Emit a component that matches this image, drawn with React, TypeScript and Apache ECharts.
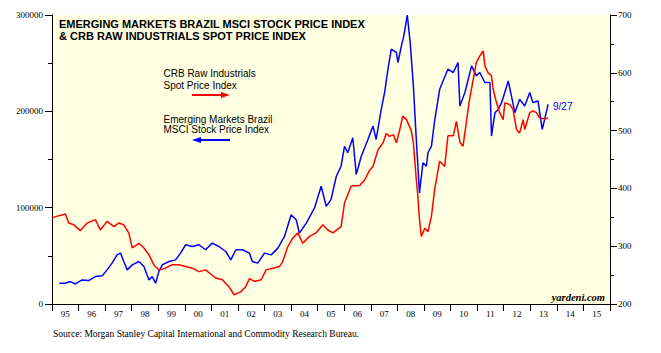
import React, { useEffect, useRef } from "react";
import * as echarts from "echarts";

const yearLabels = ["95","96","97","98","99","00","01","02","03","04","05","06","07","08","09","10","11","12","13","14","15"];

const leftTicks = [0, 100000, 200000, 300000];
const rightTicks = [200, 300, 400, 500, 600, 700];

// MSCI Brazil (left axis): [decimal year, value]
const brazil: [number, number][] = [
  [1995.28, 21500],[1995.5, 21500],[1995.69, 23300],[1995.88, 20800],[1996.13, 25000],[1996.38, 24300],
  [1996.63, 28500],[1996.89, 29200],[1997.07, 35400],[1997.26, 42400],[1997.45, 51000],[1997.58, 52800],
  [1997.7, 44100],[1997.83, 35400],[1998.02, 40600],[1998.27, 44100],[1998.46, 38900],[1998.65, 25000],
  [1998.77, 28400],[1998.9, 21600],[1999.02, 33600],[1999.15, 40600],[1999.4, 44100],[1999.65, 45800],
  [1999.84, 52800],[2000.03, 61500],[2000.28, 59700],[2000.53, 61500],[2000.78, 56300],[2001.03, 63200],
  [2001.28, 59700],[2001.54, 54500],[2001.73, 45800],[2001.92, 56300],[2002.17, 56300],[2002.43, 52800],
  [2002.54, 44100],[2002.74, 42400],[2003.0, 52800],[2003.25, 51000],[2003.5, 58000],[2003.75, 70100],
  [2004.0, 92700],[2004.19, 87500],[2004.31, 73600],[2004.57, 84000],[2004.88, 99700],[2005.13, 122200],
  [2005.32, 101300],[2005.5, 108300],[2005.7, 132600],[2005.88, 143000],[2006.01, 163800],[2006.13, 157000],
  [2006.32, 172600],[2006.45, 134400],[2006.64, 153400],[2006.89, 170800],[2007.08, 184700],[2007.2, 170800],
  [2007.39, 202000],[2007.52, 220000],[2007.65, 245000],[2007.77, 264600],[2007.96, 261100],[2008.02, 250700],
  [2008.15, 268000],[2008.24, 278400],[2008.37, 300000],[2008.48, 271600],[2008.6, 226400],[2008.71, 170800],
  [2008.77, 143000],[2008.83, 115300],[2008.96, 146600],[2009.09, 143000],[2009.15, 157000],[2009.28, 163900],
  [2009.4, 190000],[2009.59, 222900],[2009.9, 243700],[2010.1, 240300],[2010.28, 250700],[2010.35, 205500],
  [2010.54, 219500],[2010.79, 247200],[2010.97, 236800],[2011.1, 240300],[2011.29, 229900],[2011.48, 229900],
  [2011.54, 174300],[2011.67, 198600],[2011.79, 202000],[2011.92, 209000],[2012.04, 219500],[2012.17, 231600],
  [2012.29, 216000],[2012.42, 198600],[2012.6, 212500],[2012.79, 205500],[2012.98, 219500],[2013.1, 209000],
  [2013.29, 210800],[2013.45, 181200],[2013.54, 191700],[2013.67, 207300]
];

// CRB Raw Industrials (right axis): [decimal year, value]
const crb: [number, number][] = [
  [1995.0, 349],[1995.2, 352],[1995.38, 354],[1995.5, 356],[1995.63, 340],[1995.82, 337],[1996.07, 327],
  [1996.32, 340],[1996.63, 346],[1996.82, 328],[1997.07, 343],[1997.33, 334],[1997.51, 340],[1997.7, 337],
  [1997.89, 323],[1998.02, 297],[1998.27, 305],[1998.46, 297],[1998.65, 285],[1998.83, 268],[1999.02, 259],
  [1999.27, 262],[1999.52, 268],[1999.77, 268],[2000.03, 265],[2000.28, 262],[2000.53, 256],[2000.78, 259],
  [2001.16, 245],[2001.41, 242],[2001.66, 230],[2001.85, 216],[2002.1, 221],[2002.29, 230],[2002.43, 244],
  [2002.62, 239],[2002.87, 242],[2003.06, 259],[2003.31, 262],[2003.56, 265],[2003.68, 273],[2003.87, 299],
  [2004.06, 314],[2004.25, 323],[2004.44, 305],[2004.69, 317],[2004.94, 323],[2005.19, 337],[2005.38, 328],
  [2005.57, 323],[2005.88, 334],[2006.01, 375],[2006.26, 404],[2006.58, 405],[2006.77, 415],[2006.96, 432],
  [2007.08, 438],[2007.27, 467],[2007.46, 479],[2007.58, 495],[2007.7, 490],[2007.85, 493],[2007.96, 479],
  [2008.08, 500],[2008.2, 525],[2008.34, 519],[2008.52, 500],[2008.6, 479],[2008.71, 415],[2008.77, 386],
  [2008.83, 346],[2008.9, 317],[2009.03, 331],[2009.15, 325],[2009.28, 352],[2009.4, 398],[2009.59, 447],
  [2009.78, 438],[2009.9, 491],[2010.1, 491],[2010.22, 516],[2010.35, 480],[2010.47, 473],[2010.7, 550],
  [2010.97, 618],[2011.1, 629],[2011.23, 638],[2011.29, 612],[2011.41, 600],[2011.54, 595],[2011.6, 572],
  [2011.73, 548],[2011.85, 531],[2011.98, 519],[2012.04, 548],[2012.23, 545],[2012.35, 537],[2012.48, 502],
  [2012.6, 496],[2012.73, 519],[2012.79, 502],[2012.98, 531],[2013.1, 534],[2013.23, 531],[2013.35, 522],
  [2013.54, 520],[2013.67, 522]
];

const SERIF = "'Liberation Serif', 'Times New Roman', serif";
const SANS = "'Liberation Sans', Arial, sans-serif";

export default function App() {
  const ref = useRef<HTMLDivElement>(null);
  useEffect(() => {
    if (!ref.current) return;
    const chart = echarts.init(ref.current, null, { renderer: "svg" });
    const axisLabel = { color: "#000", fontFamily: SERIF, fontSize: 9 };
    chart.setOption({
      animation: false,
      grid: { left: 52, right: 51, top: 15, bottom: 49, show: true, backgroundColor: "#FFFFE1", borderWidth: 0 },
      xAxis: [
        {
          type: "category", data: yearLabels, boundaryGap: true, position: "bottom",
          axisLine: { show: true, lineStyle: { color: "#000", width: 1 } },
          axisTick: { show: true, length: 7, inside: false, lineStyle: { color: "#000" } },
          axisLabel: { ...axisLabel, margin: 5 },
          splitLine: { show: false },
        },
        { type: "value", min: 1995, max: 2016, show: false, splitLine: { show: false } },
      ],
      yAxis: [
        {
          type: "value", position: "left", min: leftTicks[0], max: leftTicks[leftTicks.length - 1], interval: 100000,
          axisLine: { show: true, lineStyle: { color: "#000" } },
          axisTick: { show: true, length: 7, lineStyle: { color: "#000" } },
          minorTick: { show: true, splitNumber: 2, length: 4, lineStyle: { color: "#000" } },
          axisLabel: { ...axisLabel, margin: 9, formatter: (v: number) => String(v) },
          splitLine: { show: false },
        },
        {
          type: "value", position: "right", min: rightTicks[0], max: rightTicks[rightTicks.length - 1], interval: 100,
          axisLine: { show: true, lineStyle: { color: "#000" } },
          axisTick: { show: true, length: 7, lineStyle: { color: "#000" } },
          minorTick: { show: true, splitNumber: 2, length: 4, lineStyle: { color: "#000" } },
          axisLabel: { ...axisLabel, margin: 8, formatter: (v: number) => String(v) },
          splitLine: { show: false },
        },
      ],
      series: [
        {
          name: "Emerging Markets Brazil MSCI Stock Price Index", type: "line", xAxisIndex: 1, yAxisIndex: 0,
          data: brazil, showSymbol: false, symbol: "none", lineStyle: { color: "#0000FF", width: 1.5 },
        },
        {
          name: "CRB Raw Industrials Spot Price Index", type: "line", xAxisIndex: 1, yAxisIndex: 1,
          data: crb, showSymbol: false, symbol: "none", lineStyle: { color: "#FF0000", width: 1.5 },
        },
      ],
      graphic: [
        { type: "text", left: 59, top: 18.5, style: { text: "EMERGING MARKETS BRAZIL MSCI STOCK PRICE INDEX", fontFamily: SANS, fontWeight: "bold", fontSize: 11, fill: "#000" } },
        { type: "text", left: 59, top: 30, style: { text: "& CRB RAW INDUSTRIALS SPOT PRICE INDEX", fontFamily: SANS, fontWeight: "bold", fontSize: 11, fill: "#000" } },
        { type: "text", left: 163.5, top: 68, style: { text: "CRB Raw Industrials", fontFamily: SANS, fontSize: 10, fill: "#000" } },
        { type: "text", left: 163.5, top: 80, style: { text: "Spot Price Index", fontFamily: SANS, fontSize: 10, fill: "#000" } },
        { type: "line", shape: { x1: 192, y1: 95, x2: 223, y2: 95 }, style: { stroke: "#FF0000", lineWidth: 2 } },
        { type: "polygon", shape: { points: [[221, 92], [230, 95], [221, 98]] }, style: { fill: "#FF0000" } },
        { type: "text", left: 163.5, top: 114, style: { text: "Emerging Markets Brazil", fontFamily: SANS, fontSize: 10, fill: "#000" } },
        { type: "text", left: 163.5, top: 124.5, style: { text: "MSCI Stock Price Index", fontFamily: SANS, fontSize: 10, fill: "#000" } },
        { type: "line", shape: { x1: 199, y1: 140, x2: 230, y2: 140 }, style: { stroke: "#0000FF", lineWidth: 2 } },
        { type: "polygon", shape: { points: [[201, 137], [192, 140], [201, 143]] }, style: { fill: "#0000FF" } },
        { type: "text", left: 553, top: 101.5, style: { text: "9/27", fontFamily: SANS, fontSize: 10, fill: "#0000FF" } },
        { type: "text", right: 56, top: 292, style: { text: "yardeni.com", fontFamily: SERIF, fontStyle: "italic", fontWeight: "bold", fontSize: 10.5, fill: "#000" } },
        { type: "text", left: 53, top: 328.5, style: { text: "Source: Morgan Stanley Capital International and Commodity Research Bureau.", fontFamily: SERIF, fontSize: 9.5, fill: "#000" } },
      ],
    });
    return () => chart.dispose();
  }, []);
  return <div ref={ref} style={{ position: "absolute", left: 0, top: 0, width: 661, height: 353, background: "#fff" }} />;
}
